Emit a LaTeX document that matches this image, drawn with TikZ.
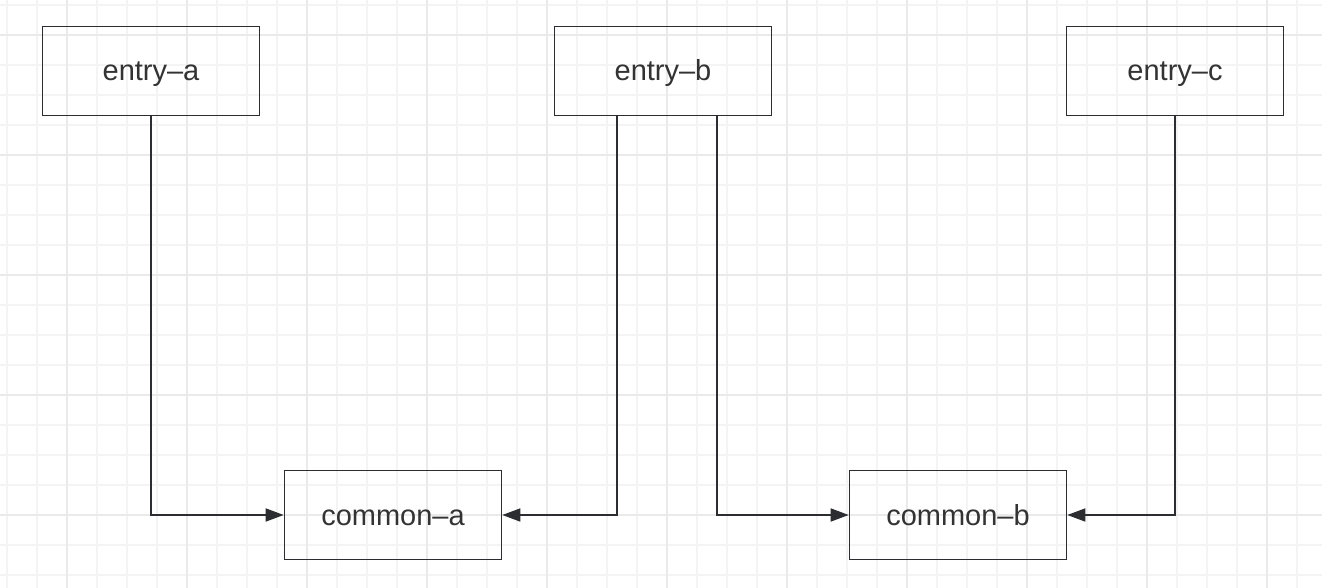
\documentclass[tikz,border=0pt]{standalone}
\usepackage{fontspec}
\setmainfont{Liberation Sans}
\usetikzlibrary{arrows.meta}
\definecolor{gridMinor}{HTML}{F4F4F4}
\definecolor{gridMajor}{HTML}{EAEAEA}
\definecolor{lineColor}{HTML}{2B2D31}
\definecolor{textColor}{HTML}{333333}

\begin{document}
\begin{tikzpicture}[x=1pt,y=-1pt,%%
  boxStyle/.style={draw=lineColor,line width=1.6pt,minimum width=217pt,minimum height=89pt,inner sep=0pt,text height=22pt,text depth=2pt,text=textColor,font=\fontsize{29}{34}\selectfont},%%
  arrowStyle/.style={-{Triangle[length=18pt,width=13pt]},line width=1.6pt,draw=lineColor},%%
  minorStyle/.style={draw=gridMinor,line width=1.5pt},%%
  majorStyle/.style={draw=gridMajor,line width=1.5pt}%%
]
%%
\useasboundingbox (0,0) rectangle (1322,588);
\fill[white] (0,0) rectangle (1322,588);
%% Draw the background grid.
\foreach \gx in {7,37,...,1327} \draw[minorStyle] (\gx,0) -- (\gx,588);
\foreach \gy in {5,35,...,575} \draw[minorStyle] (0,\gy) -- (1322,\gy);
\foreach \gx in {67,187,...,1267} \draw[majorStyle] (\gx,0) -- (\gx,588);
\foreach \gy in {35,155,...,515} \draw[majorStyle] (0,\gy) -- (1322,\gy);
%% Draw the entry boxes.
\node[boxStyle] (entryA) at (151,71) {entry--a};
\node[boxStyle] (entryB) at (663,71) {entry--b};
\node[boxStyle] (entryC) at (1175,71) {entry--c};
%% Draw the common boxes.
\node[boxStyle] (commonA) at (393,515) {common--a};
\node[boxStyle] (commonB) at (958,515) {common--b};
%% Connect the entries to the common boxes.
\draw[arrowStyle] (entryA.south) |- (commonA.west);
\draw[arrowStyle] ([xshift=-46pt]entryB.south) |- (commonA.east);
\draw[arrowStyle] ([xshift=54pt]entryB.south) |- (commonB.west);
\draw[arrowStyle] (entryC.south) |- (commonB.east);
\end{tikzpicture}
\end{document}
